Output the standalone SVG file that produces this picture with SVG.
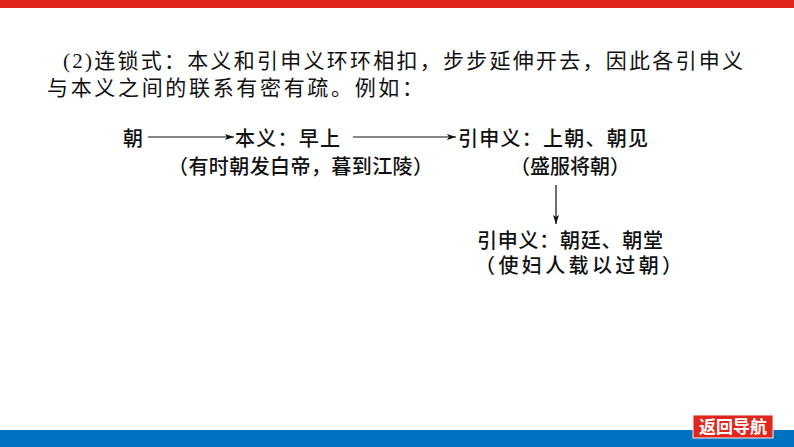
<svg xmlns="http://www.w3.org/2000/svg" width="794" height="447" viewBox="0 0 794 447">
<style>
.cn{font-family:"Liberation Sans","Noto Sans CJK SC",sans-serif;fill:#111;}
.t{font-size:21px;}
.d{font-size:20px;font-weight:500;}
.ln{stroke:#111;stroke-width:1.2;fill:none;}
</style>
<defs>
<marker id="ah" markerWidth="10" markerHeight="8" refX="9" refY="4" orient="auto" markerUnits="userSpaceOnUse">
<path d="M0,1 L9,4 L0,7 L2,4 Z" fill="#111"/>
</marker>
</defs>
<rect x="0" y="0" width="794" height="8" fill="#E1271D"/>
<rect x="0" y="430" width="794" height="17" fill="#0070C0"/>
<g id="nav">
<rect x="693" y="415" width="80" height="23" fill="#E1271D" stroke="#f2f2f2" stroke-width="1"/>
<text x="733" y="433" text-anchor="middle" font-family="'Noto Sans CJK SC',sans-serif" font-size="17" font-weight="bold" fill="#fff">返回导航</text>
</g>
<g id="intro">
<text class="cn t" x="63" y="68" textLength="680" lengthAdjust="spacing"><tspan font-family="'Liberation Serif',serif">(2)</tspan>连锁式：本义和引申义环环相扣，步步延伸开去，因此各引申义</text>
<text class="cn t" x="47" y="95" textLength="376" lengthAdjust="spacing">与本义之间的联系有密有疏。例如：</text>
</g>
<g id="node-zhao"><text class="cn d" x="123" y="146">朝</text></g>
<g id="node-benyi">
<text class="cn d" x="235" y="146" textLength="105" lengthAdjust="spacing">本义：早上</text>
<text class="cn d" x="168" y="174" textLength="265" lengthAdjust="spacing">（有时朝发白帝，暮到江陵）</text>
</g>
<g id="node-yin1">
<text class="cn d" x="458" y="146" textLength="190" lengthAdjust="spacing">引申义：上朝、朝见</text>
<text class="cn d" x="510" y="174">（盛服将朝）</text>
</g>
<g id="node-yin2">
<text class="cn d" x="477" y="248" textLength="186" lengthAdjust="spacing">引申义：朝廷、朝堂</text>
<text class="cn d" x="475" y="273" textLength="207" lengthAdjust="spacing">（使妇人载以过朝）</text>
</g>
<g id="connectors">
<line class="ln" x1="148" y1="137" x2="234" y2="137" marker-end="url(#ah)"/>
<line class="ln" x1="353" y1="137" x2="456" y2="137" marker-end="url(#ah)"/>
<line class="ln" x1="556" y1="185" x2="556" y2="224" marker-end="url(#ah)"/>
</g>
</svg>
